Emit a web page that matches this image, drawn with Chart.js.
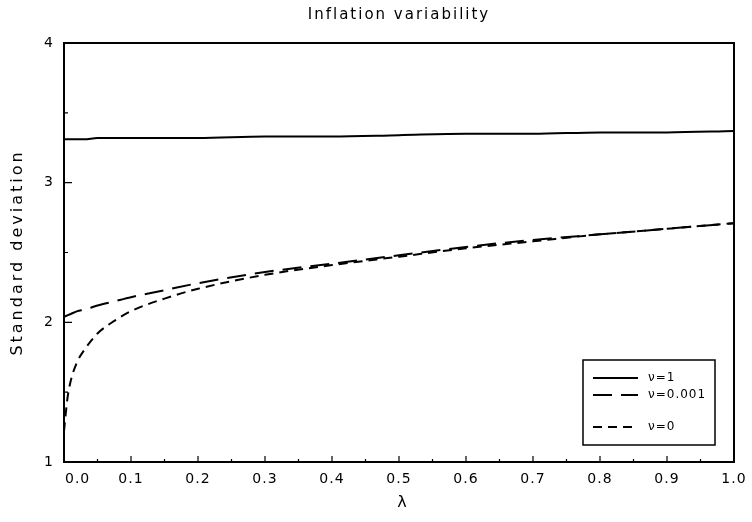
<!DOCTYPE html>
<html>
<head>
<meta charset="utf-8">
<script src="https://cdn.jsdelivr.net/npm/chart.js@4.4.0/dist/chart.umd.min.js"></script>
<style>
  html, body { margin: 0; padding: 0; background: #fff; }
  #wrap { width: 752px; height: 522px; }
</style>
</head>
<body>
<div id="wrap"><canvas id="chart" width="752" height="522"></canvas></div>
<script>
// lambda grid
const lambdaVals = [0, 0.005, 0.01, 0.02, 0.03, 0.05, 0.075, 0.1, 0.15, 0.2, 0.3, 0.4, 0.5, 0.6, 0.7, 0.8, 0.9, 1.0];
const sdNu1    = [3.31, 3.31, 3.31, 3.31, 3.31, 3.32, 3.32, 3.32, 3.32, 3.32, 3.33, 3.33, 3.34, 3.35, 3.35, 3.36, 3.36, 3.37];
const sdNu0001 = [2.04, 2.05, 2.06, 2.08, 2.09, 2.12, 2.15, 2.18, 2.23, 2.28, 2.36, 2.42, 2.48, 2.54, 2.59, 2.63, 2.67, 2.71];
const sdNu0    = [1.22, 1.45, 1.58, 1.72, 1.80, 1.92, 2.01, 2.08, 2.17, 2.24, 2.34, 2.41, 2.47, 2.53, 2.58, 2.63, 2.67, 2.71];
const seriesLabels = ['\u03bd=1', '\u03bd=0.001', '\u03bd=0'];
const xTicks = [0, 0.1, 0.2, 0.3, 0.4, 0.5, 0.6, 0.7, 0.8, 0.9, 1.0];
const yTicks = [1, 2, 3, 4];
const chartTitle = 'Inflation variability';
const xTitle = '\u03bb';
const yTitle = 'Standard deviation';

const FONT = 'DejaVu Sans';

function toPoints(ys) {
    return lambdaVals.map((x, i) => ({ x: x, y: ys[i] }));
}

// box, inward tick marks, titles, x labels and the legend
const framePlugin = {
    id: 'frame',
    afterDraw(chart) {
        const ctx = chart.ctx;
        const a = chart.chartArea;
        const xs = chart.scales.x;
        const ys = chart.scales.y;
        const midX = (a.left + a.right) / 2;
        const midY = (a.top + a.bottom) / 2;
        ctx.save();
        ctx.strokeStyle = '#000';
        ctx.fillStyle = '#000';
        ctx.lineWidth = 2;
        ctx.strokeRect(a.left, a.top, a.right - a.left, a.bottom - a.top);

        ctx.lineWidth = 1.2;
        ctx.beginPath();
        for (let i = 0; i <= 20; i++) {
            const px = xs.getPixelForValue(i * 0.05);
            const len = i % 2 === 0 ? 6 : 3;
            ctx.moveTo(px, a.bottom);
            ctx.lineTo(px, a.bottom - len);
        }
        for (let i = 0; i <= 6; i++) {
            const py = ys.getPixelForValue(1 + i * 0.5);
            const len = i % 2 === 0 ? 8 : 4;
            ctx.moveTo(a.left, py);
            ctx.lineTo(a.left + len, py);
        }
        ctx.stroke();

        ctx.textBaseline = 'middle';

        // title
        ctx.font = '15px "' + FONT + '"';
        ctx.letterSpacing = '2px';
        ctx.textAlign = 'center';
        ctx.fillText(chartTitle, midX, 15);

        // axis titles
        ctx.font = '16px "' + FONT + '"';
        ctx.fillText(xTitle, midX + 4, 503);
        ctx.save();
        ctx.translate(18, midY);
        ctx.rotate(-Math.PI / 2);
        ctx.letterSpacing = '3px';
        ctx.fillText(yTitle, 0, 0);
        ctx.restore();

        // x tick labels (first one sits right of the axis)
        ctx.font = '14px "' + FONT + '"';
        ctx.letterSpacing = '1px';
        xTicks.forEach((v, i) => {
            const px = xs.getPixelForValue(v);
            ctx.textAlign = i === 0 ? 'left' : 'center';
            ctx.fillText(v.toFixed(1), i === 0 ? px + 1 : px, a.bottom + 17);
        });

        // legend box
        const bx = a.right - 151, by = a.bottom - 102, bw = 132, bh = 85;
        ctx.lineWidth = 1.5;
        ctx.strokeRect(bx, by, bw, bh);
        const rows = [18, 35, 67];
        ctx.font = '12px "' + FONT + '"';
        ctx.textAlign = 'left';
        chart.data.datasets.forEach((ds, i) => {
            const ry = by + rows[i];
            ctx.lineWidth = 2;
            ctx.setLineDash(ds.borderDash || []);
            ctx.beginPath();
            ctx.moveTo(bx + 10, ry);
            ctx.lineTo(bx + 55, ry);
            ctx.stroke();
            ctx.setLineDash([]);
            ctx.fillText(ds.label, bx + 65, ry);
        });
        ctx.restore();
    }
};

new Chart(document.getElementById('chart'), {
    type: 'line',
    data: {
        datasets: [{
            label: seriesLabels[0],
            data: toPoints(sdNu1),
            borderColor: '#000',
            borderWidth: 2,
            pointRadius: 0
        }, {
            label: seriesLabels[1],
            data: toPoints(sdNu0001),
            borderColor: '#000',
            borderWidth: 2,
            borderDash: [19, 9],
            pointRadius: 0
        }, {
            label: seriesLabels[2],
            data: toPoints(sdNu0),
            borderColor: '#000',
            borderWidth: 2,
            borderDash: [9, 6],
            pointRadius: 0
        }]
    },
    options: {
        responsive: false,
        animation: false,
        cubicInterpolationMode: 'monotone',
        layout: { padding: { left: 0, right: 18, top: 43, bottom: 0 } },
        plugins: {
            legend: { display: false },
            tooltip: { enabled: false },
            title: { display: false }
        },
        scales: {
            x: {
                type: 'linear',
                min: 0,
                max: 1,
                grid: { display: false, drawTicks: false },
                border: { display: false },
                ticks: { display: false, stepSize: 0.1 },
                afterFit: scale => { scale.height = 60; }
            },
            y: {
                min: 1,
                max: 4,
                grid: { display: false, drawTicks: false },
                border: { display: false },
                afterBuildTicks: scale => { scale.ticks = yTicks.map(v => ({ value: v })); },
                ticks: {
                    color: '#000',
                    padding: 11,
                    font: { family: FONT, size: 14 }
                },
                afterFit: scale => { scale.width = 64; }
            }
        }
    },
    plugins: [framePlugin]
});
</script>
</body>
</html>
